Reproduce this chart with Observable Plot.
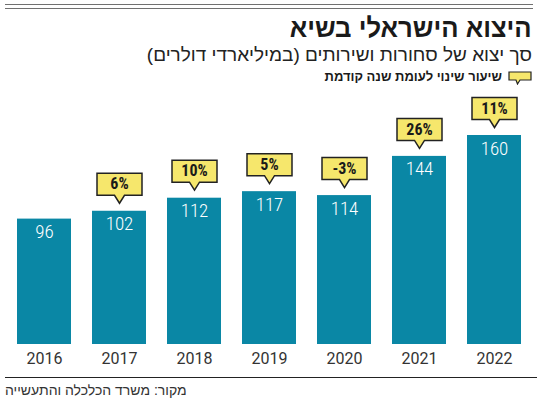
<!DOCTYPE html>
<html><head><meta charset="utf-8">
<script src="https://cdn.jsdelivr.net/npm/d3@7"></script>
<script src="https://cdn.jsdelivr.net/npm/@observablehq/plot@0.6"></script>
<style>
body{margin:0;width:550px;height:398px;position:relative;background:#fff;overflow:hidden;font-family:"Liberation Sans","DejaVu Sans",sans-serif;color:#1a1a1a}
.rule{position:absolute;left:5px;width:528px;height:0;border-top:1.5px solid #707070}
#title{position:absolute;right:18px;top:13px;direction:rtl;font-weight:900;font-size:27px;line-height:30px;white-space:nowrap;color:#1a1a1a;transform:scaleX(0.95);transform-origin:right center}
#subtitle{position:absolute;right:18px;top:44px;direction:rtl;font-size:19px;line-height:22px;white-space:nowrap;color:#222}
#legend{position:absolute;right:18px;top:69px;direction:rtl;font-size:13px;line-height:16px;font-weight:bold;white-space:nowrap;display:flex;align-items:flex-start;gap:6px}
#legend svg{display:block;margin-top:2px}
#chart{position:absolute;left:0;top:92px}
#bottomrule{position:absolute;left:5px;top:377px;width:532px;border-top:1.5px solid #222}
#source{position:absolute;left:5px;top:382px;direction:rtl;font-size:14px;line-height:16px;color:#333;white-space:nowrap}
.cond, .cond text{font-family:"Roboto Condensed","Open Sans","DejaVu Sans",sans-serif;font-stretch:75%}
.light, .light text{font-weight:300}
</style></head>
<body>
<div class="rule" style="top:4px"></div>
<div class="rule" style="top:7.5px"></div>
<div id="title">היצוא הישראלי בשיא</div>
<div id="subtitle">סך יצוא של סחורות ושירותים (במיליארדי דולרים)</div>
<div id="legend"><svg width="24" height="14" viewBox="0 0 24 14"><path d="M1 1 H23 V9 H12 L9.5 13 L8 9 H1 Z" fill="#f6e76c" stroke="#222" stroke-width="1.2"/></svg><span>שיעור שינוי לעומת שנה קודמת</span></div>
<div id="chart"></div>
<div id="bottomrule"></div>
<div id="source">מקור: משרד הכלכלה והתעשייה</div>
<script>
const years = ["2016","2017","2018","2019","2020","2021","2022"];
const values = [96, 102, 112, 117, 114, 144, 160];
const changes = [null, 6, 10, 5, -3, 26, 11];

const rows = years.map((year, i) => ({year, value: values[i], change: changes[i]}));
const withChange = rows.filter(d => d.change != null);

const callout = {
  draw(ctx) {
    ctx.moveTo(0, 0);
    ctx.lineTo(5, -8);
    ctx.lineTo(22.5, -8);
    ctx.lineTo(22.5, -30);
    ctx.lineTo(-22.5, -30);
    ctx.lineTo(-22.5, -8);
    ctx.lineTo(-5, -8);
    ctx.closePath();
  }
};

const chart = Plot.plot({
  width: 550,
  height: 280,
  marginLeft: 15,
  marginRight: 28,
  marginTop: 43,
  marginBottom: 28,
  style: {fontFamily: "Roboto, 'Liberation Sans', sans-serif", fontSize: "16px", color: "#333", background: "transparent", overflow: "visible"},
  x: {domain: years, paddingInner: 0.28, paddingOuter: 0, label: null, tickSize: 0, tickPadding: 8},
  y: {domain: [0, 160], axis: null},
  marks: [
    Plot.barY(rows, {x: "year", y: "value", fill: "#0a87a5"}),
    Plot.text(rows, {x: "year", y: "value", text: d => String(d.value), dy: 13, fill: "white", fontSize: 19, className: "cond light"}),
    Plot.dot(withChange, {x: "year", y: "value", symbol: callout, r: 5, dy: -8, fill: "#f6e76c", stroke: "#222", strokeWidth: 1.5, strokeLinejoin: "miter"}),
    Plot.text(withChange, {x: "year", y: "value", text: d => d.change + "%", dy: -27, fill: "#1a1a1a", fontSize: 16, fontWeight: "bold", className: "cond"})
  ]
});
document.getElementById("chart").appendChild(chart);
</script>
</body></html>
